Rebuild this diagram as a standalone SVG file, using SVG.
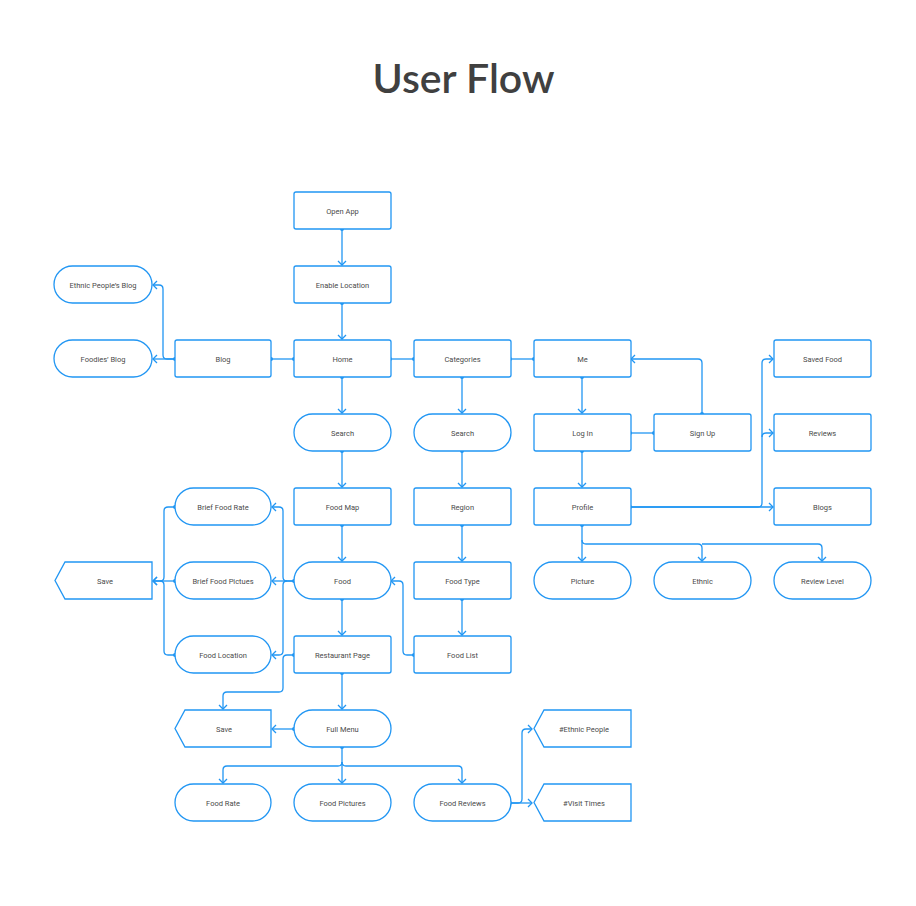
<svg xmlns="http://www.w3.org/2000/svg" width="916" height="906" viewBox="0 0 916 906">
<defs>
<style>
.n rect, .n path{fill:#fff;stroke:#2196F3;stroke-width:1.3}
.n text{font-family:Roboto,"Liberation Sans",sans-serif;font-size:7.5px;fill:#4a4a4a;text-anchor:middle}
.c path{fill:none;stroke:#2196F3;stroke-width:1.3}
.c circle{fill:#2196F3}
.a{marker-end:url(#arr)}
.t{font-family:Lato,"Liberation Sans",sans-serif;font-size:41px;font-weight:600;fill:#404040;text-anchor:middle}
</style>
<marker id="arr" markerUnits="userSpaceOnUse" markerWidth="12" markerHeight="12" viewBox="-6 -6 12 12" refX="0" refY="0" orient="auto">
<path d="M-4,-4 L0,0 L-4,4" fill="none" stroke="#2196F3" stroke-width="1.3"/>
</marker>
</defs>
<rect width="916" height="906" fill="#fff"/>
<text class="t" x="463.5" y="93">User Flow</text>

<g class="c" id="connectors">
<path class="a" d="M342,229 V265"/>
<path class="a" d="M342,303 V339"/>
<path d="M294,359 H271"/>
<path d="M390,359 H414"/>
<path d="M510,359 H534"/>
<path class="a" d="M175,359 H153"/>
<path class="a" d="M175,359 H167 Q163,359 163,355 V289 Q163,285 159,285 H153"/>
<path class="a" d="M342,377 V413"/>
<path class="a" d="M462,377 V413"/>
<path class="a" d="M582,377 V413"/>
<path class="a" d="M702,414 V363 Q702,359 698,359 H631"/>
<path d="M630,433 H654"/>
<path class="a" d="M582,451 V487"/>
<path class="a" d="M630,507 H773"/>
<path class="a" d="M630,507 H758 Q762,507 762,503 V437 Q762,433 766,433 H773"/>
<path class="a" d="M762,437 V363 Q762,359 766,359 H773"/>
<path class="a" d="M582,525 V561"/>
<path class="a" d="M582,540 Q582,544 586,544 H698 Q702,544 702,548 V561"/>
<path class="a" d="M702,544 H818 Q822,544 822,548 V561"/>
<path class="a" d="M342,451 V487"/>
<path class="a" d="M462,451 V487"/>
<path class="a" d="M342,525 V561"/>
<path class="a" d="M462,525 V561"/>
<path class="a" d="M462,599 V635"/>
<path class="a" d="M414,655 H407 Q403,655 403,651 V585 Q403,581 399,581 H391"/>
<path class="a" d="M294,581 H272"/>
<path class="a" d="M294,581 H287 Q283,581 283,577 V511 Q283,507 279,507 H272"/>
<path class="a" d="M287,581 Q283,581 283,585 V651 Q283,655 279,655 H272"/>
<path class="a" d="M175,581 H153"/>
<path class="a" d="M175,507 H168 Q164,507 164,511 V577 Q164,581 160,581 H153"/>
<path d="M175,655 H168 Q164,655 164,651 V585 Q164,581 160,581"/>
<path class="a" d="M342,599 V635"/>
<path class="a" d="M294,655 H287 Q283,655 283,659 V688 Q283,692 279,692 H227 Q223,692 223,696 V709"/>
<path class="a" d="M342,673 V709"/>
<path class="a" d="M294,729 H272"/>
<path class="a" d="M342,747 V783"/>
<path class="a" d="M342,762 Q342,766 338,766 H227 Q223,766 223,770 V783"/>
<path class="a" d="M342,762 Q342,766 346,766 H458 Q462,766 462,770 V783"/>
<path class="a" d="M510,803 H532"/>
<path class="a" d="M510,803 H518 Q522,803 522,799 V733 Q522,729 526,729 H532"/>
<circle cx="342" cy="229" r="2"/><circle cx="342" cy="303" r="2"/>
<circle cx="294" cy="359" r="2"/><circle cx="271" cy="359" r="2"/>
<circle cx="390" cy="359" r="2"/><circle cx="414" cy="359" r="2"/>
<circle cx="510" cy="359" r="2"/><circle cx="534" cy="359" r="2"/>
<circle cx="175" cy="359" r="2"/>
<circle cx="342" cy="377" r="2"/><circle cx="462" cy="377" r="2"/><circle cx="582" cy="377" r="2"/>
<circle cx="702" cy="414" r="2"/>
<circle cx="630" cy="433" r="2"/><circle cx="654" cy="433" r="2"/>
<circle cx="582" cy="451" r="2"/>
<circle cx="630" cy="507" r="2"/><circle cx="582" cy="525" r="2"/>
<circle cx="342" cy="451" r="2"/><circle cx="462" cy="451" r="2"/>
<circle cx="342" cy="525" r="2"/><circle cx="462" cy="525" r="2"/>
<circle cx="462" cy="599" r="2"/><circle cx="414" cy="655" r="2"/>
<circle cx="294" cy="581" r="2"/>
<circle cx="175" cy="507" r="2"/><circle cx="175" cy="581" r="2"/><circle cx="175" cy="655" r="2"/>
<circle cx="342" cy="599" r="2"/><circle cx="294" cy="655" r="2"/><circle cx="342" cy="673" r="2"/>
<circle cx="294" cy="729" r="2"/><circle cx="342" cy="747" r="2"/>
<circle cx="510" cy="803" r="2"/>
</g>

<g class="n" id="open-app"><rect x="294" y="192" width="97" height="37" rx="2"/><text x="342.5" y="213.7">Open App</text></g>
<g class="n" id="enable-location"><rect x="294" y="266" width="97" height="37" rx="2"/><text x="342.5" y="287.7">Enable Location</text></g>
<g class="n" id="ethnic-blog"><rect x="54" y="266" width="98" height="37" rx="18.5"/><text x="103" y="287.7">Ethnic People’s Blog</text></g>
<g class="n" id="foodies-blog"><rect x="54" y="340" width="98" height="37" rx="18.5"/><text x="103" y="361.7">Foodies’ Blog</text></g>
<g class="n" id="blog"><rect x="175" y="340" width="96" height="37" rx="2"/><text x="223" y="361.7">Blog</text></g>
<g class="n" id="home"><rect x="294" y="340" width="97" height="37" rx="2"/><text x="342.5" y="361.7">Home</text></g>
<g class="n" id="categories"><rect x="414" y="340" width="97" height="37" rx="2"/><text x="462.5" y="361.7">Categories</text></g>
<g class="n" id="me"><rect x="534" y="340" width="97" height="37" rx="2"/><text x="582.5" y="361.7">Me</text></g>
<g class="n" id="saved-food"><rect x="774" y="340" width="97" height="37" rx="2"/><text x="822.5" y="361.7">Saved Food</text></g>
<g class="n" id="search1"><rect x="294" y="414" width="97" height="37" rx="18.5"/><text x="342.5" y="435.7">Search</text></g>
<g class="n" id="search2"><rect x="414" y="414" width="97" height="37" rx="18.5"/><text x="462.5" y="435.7">Search</text></g>
<g class="n" id="log-in"><rect x="534" y="414" width="97" height="37" rx="2"/><text x="582.5" y="435.7">Log In</text></g>
<g class="n" id="sign-up"><rect x="654" y="414" width="97" height="37" rx="2"/><text x="702.5" y="435.7">Sign Up</text></g>
<g class="n" id="reviews"><rect x="774" y="414" width="97" height="37" rx="2"/><text x="822.5" y="435.7">Reviews</text></g>
<g class="n" id="brief-food-rate"><rect x="175" y="488" width="96" height="37" rx="18.5"/><text x="223" y="509.7">Brief Food Rate</text></g>
<g class="n" id="food-map"><rect x="294" y="488" width="97" height="37" rx="2"/><text x="342.5" y="509.7">Food Map</text></g>
<g class="n" id="region"><rect x="414" y="488" width="97" height="37" rx="2"/><text x="462.5" y="509.7">Region</text></g>
<g class="n" id="profile"><rect x="534" y="488" width="97" height="37" rx="2"/><text x="582.5" y="509.7">Profile</text></g>
<g class="n" id="blogs"><rect x="774" y="488" width="97" height="37" rx="2"/><text x="822.5" y="509.7">Blogs</text></g>
<g class="n" id="save1"><path d="M65,562 H152 V599 H65 L55,580.5 Z"/><text x="105" y="583.7">Save</text></g>
<g class="n" id="brief-food-pictures"><rect x="175" y="562" width="96" height="37" rx="18.5"/><text x="223" y="583.7">Brief Food Pictues</text></g>
<g class="n" id="food"><rect x="294" y="562" width="97" height="37" rx="18.5"/><text x="342.5" y="583.7">Food</text></g>
<g class="n" id="food-type"><rect x="414" y="562" width="97" height="37" rx="2"/><text x="462.5" y="583.7">Food Type</text></g>
<g class="n" id="picture"><rect x="534" y="562" width="97" height="37" rx="18.5"/><text x="582.5" y="583.7">Picture</text></g>
<g class="n" id="ethnic"><rect x="654" y="562" width="97" height="37" rx="18.5"/><text x="702.5" y="583.7">Ethnic</text></g>
<g class="n" id="review-level"><rect x="774" y="562" width="97" height="37" rx="18.5"/><text x="822.5" y="583.7">Review Level</text></g>
<g class="n" id="food-location"><rect x="175" y="636" width="96" height="37" rx="18.5"/><text x="223" y="657.7">Food Location</text></g>
<g class="n" id="restaurant-page"><rect x="294" y="636" width="97" height="37" rx="2"/><text x="342.5" y="657.7">Restaurant Page</text></g>
<g class="n" id="food-list"><rect x="414" y="636" width="97" height="37" rx="2"/><text x="462.5" y="657.7">Food List</text></g>
<g class="n" id="save2"><path d="M185,710 H271 V747 H185 L175,728.5 Z"/><text x="224" y="731.7">Save</text></g>
<g class="n" id="full-menu"><rect x="294" y="710" width="97" height="37" rx="18.5"/><text x="342.5" y="731.7">Full Menu</text></g>
<g class="n" id="ethnic-people"><path d="M544,710 H631 V747 H544 L534,728.5 Z"/><text x="584" y="731.7">#Ethnic People</text></g>
<g class="n" id="food-rate"><rect x="175" y="784" width="96" height="37" rx="18.5"/><text x="223" y="805.7">Food Rate</text></g>
<g class="n" id="food-pictures"><rect x="294" y="784" width="97" height="37" rx="18.5"/><text x="342.5" y="805.7">Food Pictures</text></g>
<g class="n" id="food-reviews"><rect x="414" y="784" width="97" height="37" rx="18.5"/><text x="462.5" y="805.7">Food Reviews</text></g>
<g class="n" id="visit-times"><path d="M544,784 H631 V821 H544 L534,802.5 Z"/><text x="584" y="805.7">#Visit Times</text></g>
</svg>
